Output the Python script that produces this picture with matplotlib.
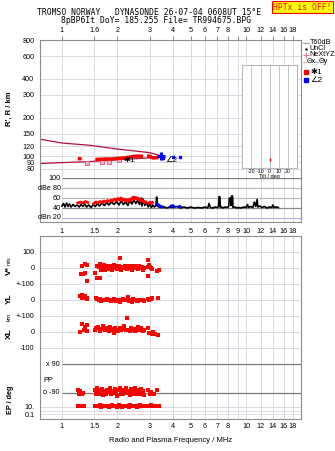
import matplotlib
matplotlib.use("Agg")
import matplotlib.pyplot as plt
from matplotlib.ticker import NullLocator
import numpy as np

plt.rcParams['font.family'] = ['Liberation Sans', 'DejaVu Sans']

W, H = 335, 451

# frequency axis (MHz)
freq_ticks = [1, 1.5, 2, 3, 4, 5, 6, 7, 8, 9, 10, 12, 14, 16, 18]
top_labels = ["1", "1.6", "2", "3", "4", "5", "6", "7", "8", "", "10", "12", "14", "16", "18"]
mid_labels = ["1", "1.5", "2", "3", "4", "5", "6", "7", "8", "9", "10", "12", "14", "16", "18"]
bot_labels = ["1", "1.5", "2", "3", "4", "5", "6", "7", "8", "", "10", "12", "14", "16", "18"]
range_ticks = [80, 90, 100, 120, 150, 200, 300, 400, 600, 800]

# model curves in the range panel
upper_f = [0.76, 1.0, 1.42, 2.0, 3.0, 3.45]
upper_r = [136, 127, 122, 114, 107, 101]
lower_f = [0.76, 1.0, 1.37, 2.0, 3.0, 3.45]
lower_r = [88, 89.5, 91, 94, 97.5, 100]
nexyz_f = [1.36, 1.66, 1.81, 2.04]
nexyz_r = [89, 91, 91, 93.5]

# O trace (*1) and X trace (<2)
o_f = [1.22, 1.28, 1.30, 1.37, np.nan, 1.52, 1.62, 1.72, 1.85, 2.0, 2.2, 2.35, 2.5, 2.76, np.nan, 2.9, 3.0, 3.1, 3.2, 3.35]
o_r = [96, 96, np.nan, 96, np.nan, 94.5, 95, 95.5, 95.5, 96.5, 97.5, 99, 100.5, 100.5, np.nan, 101, 100.5, 97.5, 97.5, 98]
x_f = [3.55, 4.0, 4.4]
x_r = [98, 98.5, 99]

# amplitude panel (dB)
amp_f = [1.00, 1.02, 1.04, 1.06, 1.08, 1.10, 1.12, 1.15, 1.18, 1.21, 1.24, 1.27, 1.30, 1.33, 1.36,
         1.40, 1.44, 1.48, 1.52, 1.56, 1.60, 1.65, 1.70, 1.75, 1.80, 1.86, 1.92, 1.98, 2.04, 2.10,
         2.16, 2.22, 2.28, 2.34, 2.40, 2.46, 2.52, 2.58, 2.64, 2.70, 2.72, 2.76, 2.82, 2.88, 2.94,
         3.00, 3.06, 3.12, 3.18, 3.24, 3.27, 3.30, 3.36, 3.45, 3.55, 3.70, 3.85, 4.00, 4.20, 4.40,
         4.60, 4.80, 5.00, 5.25, 5.50, 5.75, 6.00, 6.20, 6.30, 6.40, 6.60, 6.80, 7.00, 7.10, 7.14,
         7.22, 7.26, 7.35, 7.50, 7.70, 7.90, 8.05, 8.12, 8.25, 8.30, 8.35, 8.45, 8.50, 8.70, 8.90,
         9.10, 9.40, 9.70, 10.0, 10.2, 10.3, 10.6, 10.9, 11.1, 11.3, 11.5, 11.6, 11.9, 12.2, 12.6,
         13.0, 13.4, 13.8, 14.0, 14.2, 14.6, 15.0]
amp_db = [44, 49, 42, 50, 43, 48, 42, 47, 43, 46, 42, 47, 43, 48, 42,
          46, 41, 47, 43, 49, 44, 50, 45, 51, 46, 52, 47, 53, 46, 54,
          47, 52, 45, 55, 48, 56, 49, 55, 47, 60, 44, 58, 45, 52, 42,
          48, 41, 46, 42, 45, 62, 44, 42, 41, 43, 40, 42, 41, 43, 40,
          42, 40, 42, 40, 41, 40, 42, 40, 49, 41, 40, 42, 41, 43, 63,
          62, 41, 42, 40, 42, 41, 43, 60, 59, 45, 64, 64, 41, 42, 40,
          41, 40, 42, 41, 47, 41, 43, 41, 52, 43, 57, 42, 44, 41, 43,
          40, 42, 41, 46, 41, 42, 41]
o_amp_f = [1.22, 1.26, 1.30, 1.34, 1.38, np.nan, 1.49, 1.53, 1.57, 1.61, 1.65, 1.69, 1.73, 1.77, 1.81,
           1.85, 1.89, 1.93, 1.97, 2.01, 2.05, 2.09, 2.13, 2.17, 2.21, 2.25, 2.29, 2.33, 2.37, 2.41,
           2.45, 2.49, 2.53, 2.57, 2.61, 2.65, 2.69, 2.73, 2.77, 2.82, 2.86, np.nan, 2.95, 3.00, 3.05, 3.10]
o_amp_db = [50, 52, 50, 53, 51, np.nan, 49, 52, 50, 53, 51, 54, 52, 55, 53,
            56, 54, 58, 55, 59, 56, 60, 55, 58, 54, 57, 53, 58, 55, 60,
            62, 59, 61, 57, 59, 55, 57, 53, 54, 51, 52, np.nan, 50, 52, 49, 51]
x_amp_f = [3.28, 3.32, 3.38, 3.45, 3.52, np.nan, 3.92, 4.00, 4.05, np.nan, 4.35, 4.42]
x_amp_db = [48, 47, 45, 43, 42, np.nan, 44, 45, 43, np.nan, 43, 42]

# drift velocity, locations, polarisation
vs_f = [1.27, 1.29, 1.30, 1.33, 1.34, 1.36, 1.37,
        1.52, 1.55, 1.56, 1.58, 1.60, 1.61, 1.63, 1.65, 1.67, 1.69, 1.71, 1.73, 1.75, 1.77, 1.79,
        1.81, 1.84, 1.87, 1.90, 1.93, 1.96, 1.99, 2.02, 2.05, 2.07, 2.10, 2.13, 2.16, 2.19, 2.22,
        2.25, 2.28, 2.31, 2.34, 2.37, 2.40, 2.44, 2.47, 2.51, 2.55, 2.59, 2.63, 2.67, 2.71, 2.75, 2.79,
        2.92, 2.93, 2.94, 2.96, 2.98, 3.01, 3.04, 3.07, 3.30, 3.38]
vs_v = [-40, 12, -40, 25, -30, 20, -80,
        -30, 15, -60, 5, -60, 25, -10, 10, 0, 20, -15, 5, 10, -5, 15,
        0, 10, -10, 5, 20, 0, -5, 10, 15, 65, -10, 5, 0, 15, 10,
        -5, 5, 15, 0, 10, -10, 5, 10, 0, 15, -5, 10, 0, 5, -10, 0,
        50, -48, 8, 20, 15, 5, 0, -5, -20, -12]
yl_f = [1.26, 1.28, 1.29, 1.31, 1.33, 1.34, 1.36, 1.37,
        1.53, 1.56, 1.58, 1.61, 1.64, 1.67, 1.70, 1.73, 1.76, 1.79, 1.82, 1.85, 1.88, 1.91, 1.94,
        1.97, 2.00, 2.04, 2.08, 2.12, 2.16, 2.20, 2.24, 2.28, 2.32, 2.36, 2.40, 2.44, 2.48, 2.52,
        2.56, 2.60, 2.65, 2.70, 2.75, 2.80,
        2.94, 2.97, 3.00, 3.04, 3.07, 3.33]
yl_v = [25, 15, 30, 10, 20, 28, 12, 5,
        15, 5, 0, 5, -5, 0, 2, -2, 5, -3, 0, -8, 0, 5, -2,
        -5, 0, 3, -10, 0, 5, -3, 0, 20, -5, 0, -10, 5, -2, 0,
        -8, -5, 0, -3, 0, -5,
        5, 2, 5, 8, 10, 15]
xl_f = [1.26, 1.28, 1.31, 1.33, 1.36, 1.37,
        1.52, 1.54, 1.57, 1.60, 1.62, 1.65, 1.68, 1.71, 1.74, 1.77, 1.80, 1.83, 1.86, 1.89, 1.92,
        1.95, 1.98, 2.02, 2.06, 2.10, 2.14, 2.18, 2.22, 2.26, 2.30, 2.34, 2.38, 2.42, 2.46, 2.50,
        2.54, 2.58, 2.62, 2.66, 2.70, 2.75, 2.80,
        2.94, 2.97, 3.07, 3.14, 3.20, 3.33]
xl_v = [-2, 48, 12, 33, 5, 44,
        10, 25, 30, 15, 8, 20, 35, 10, 25, 15, 5, 30, 18, 12, -5,
        22, 15, 8, 28, 12, 20, 35, 10, 85, 15, 5, 25, 12, 18, 8,
        20, 30, 10, 15, 22, 5, 12,
        23, -8, -14, 0, -14, -19]
pp_f = [1.22, 1.24, 1.26, 1.28, 1.30,
        1.52, 1.54, 1.56, 1.58, 1.60, 1.62, 1.64, 1.66, 1.68, 1.70, 1.73, 1.76, 1.79, 1.82, 1.85,
        1.88, 1.91, 1.94, 1.97, 2.00, 2.03, 2.06, 2.09, 2.12, 2.15, 2.18, 2.21, 2.24, 2.27, 2.30,
        2.33, 2.36, 2.39, 2.42, 2.45, 2.48, 2.51, 2.54, 2.57, 2.60, 2.64, 2.68, 2.72, 2.76, 2.80,
        2.95, 3.00, 3.05, 3.15, 3.30]
pp_v = [-75, -95, -80, -100, -90,
        -70, -95, -60, -85, -100, -75, -90, -65, -105, -80, -95, -70, -88, -60, -100,
        -78, -92, -68, -85, -110, -75, -62, -95, -80, -100, -70, -88, -58, -93, -76,
        -105, -65, -85, -98, -72, -90, -60, -82, -100, -70, -95, -66, -88, -78, -102,
        -70, -95, -85, -100, -75]
ep_f = [1.22, 1.25, 1.28, 1.31,
        1.52, 1.56, 1.60, 1.64, 1.68, 1.72, 1.76, 1.80, 1.84, 1.88, 1.92, 1.96, 2.00, 2.04, 2.08,
        2.12, 2.16, 2.20, 2.25, 2.30, 2.35, 2.40, 2.45, 2.50, 2.55, 2.60, 2.65, 2.70, 2.75, 2.80,
        2.95, 3.00, 3.05, 3.15, 3.25, 3.35]
ep_v = [20, 20, 15, 20,
        20, 15, 25, 10, 18, 12, 20, 8, 15, 22, 12, 18, 10, 25, 15,
        8, 20, 12, 18, 10, 22, 15, 12, 20, 8, 15, 25, 12, 18, 15,
        20, 15, 22, 18, 20, 15]

# stacked rows of the lower panel share one vertical axis
YL_OFF = -200
XL_OFF = -400
PP_OFF = -690


def ep_pos(ep):
    return -867 + 23.75 * np.log10(np.asarray(ep, dtype=float) / 10)


def rect(x0, y0, x1, y1):
    return [x0 / W, 1 - y1 / H, (x1 - x0) / W, (y1 - y0) / H]


GRID = '#dcd8e2'
SPINE = '#8c8c8c'
FLIM = (0.76, 19.9)


def freq_axis(ax):
    ax.set_xscale('log')
    ax.set_xlim(*FLIM)
    ax.set_xticks(freq_ticks)
    ax.xaxis.set_minor_locator(NullLocator())
    ax.grid(True, axis='x', color=GRID, lw=0.7)
    for s in ax.spines.values():
        s.set_color(SPINE)
        s.set_linewidth(0.8)


fig = plt.figure(figsize=(W / 100, H / 100), dpi=100)

# range panel
ax_r = fig.add_axes(rect(40, 40, 301, 178))
freq_axis(ax_r)
ax_r.set_yscale('log')
ax_r.set_ylim(68, 800)
ax_r.set_yticks(range_ticks)
ax_r.set_yticklabels([str(t) for t in range_ticks])
ax_r.yaxis.set_minor_locator(NullLocator())
for t in range_ticks:
    ax_r.axhline(t, color=GRID, lw=0.7, zorder=0)
ax_r.set_xticklabels(top_labels)
ax_r.tick_params(axis='x', top=True, bottom=False, labeltop=True, labelbottom=False,
                 length=3, pad=1, labelsize=5.2, color=SPINE)
ax_r.tick_params(axis='y', length=0, pad=4, labelsize=5.2)
ax_r.spines['bottom'].set_visible(False)
ax_r.plot(upper_f, upper_r, color='#b0123c', lw=0.9)
ax_r.plot(lower_f, lower_r, color='#b0123c', lw=0.9)
ax_r.plot(nexyz_f, nexyz_r, ls='none', marker='s', ms=2.3, mfc='#f6b0c8', mec='#e0508a', mew=0.6)
ax_r.plot(o_f, o_r, color='red', lw=2.5, solid_capstyle='butt')
ax_r.plot([3.45], [100], marker='+', ms=6, mew=2.2, color='blue')
ax_r.plot(x_f, x_r, ls='none', marker='s', ms=2, color='blue')
ax_r.text(2.16, 92.5, "✱1", fontsize=6, va='center', ha='left')
ax_r.text(3.63, 93.5, "∠2", fontsize=6, va='center', ha='left')
ax_r.set_ylabel("R', R / km", fontsize=5.5, fontweight='bold', labelpad=7)

# tilt inset
ax_t = fig.add_axes(rect(241.7, 65, 297.3, 168))
ax_t.set_facecolor('white')
ax_t.set_xlim(-30.5, 30)
ax_t.set_yscale('log')
ax_t.set_ylim(80, 503)
ax_t.set_xticks([-20, -10, 0, 10, 20])
ax_t.set_yticks([])
ax_t.yaxis.set_minor_locator(NullLocator())
ax_t.grid(True, axis='x', color='#b8b8c0', lw=0.6)
ax_t.tick_params(axis='x', length=0, pad=1, labelsize=3.8)
ax_t.set_xticklabels(["-20", "-10", "0", "10", "20"])
for s in ax_t.spines.values():
    s.set_color('#b8b8c0')
    s.set_linewidth(0.8)
ax_t.vlines(0, 90, 96, color='red', lw=1)
ax_t.set_xlabel("Tilt / deg", fontsize=4, labelpad=0)

# amplitude panel
ax_a = fig.add_axes(rect(40, 178, 301, 222))
freq_axis(ax_a)
ax_a.set_ylim(12, 100)
ax_a.set_yticks([])
ax_a.spines['top'].set_visible(False)
ax_a.set_xticklabels(mid_labels)
ax_a.tick_params(axis='x', length=0, pad=4, labelsize=5.2)
for lev, lab, col in [(100, "100", '#7a7a7a'), (80, "dBe 80", '#b8b8b8'), (60, "60", '#b8b8b8'),
                      (40, "40", '#8a8a8a'), (20, "dBn 20", '#b8b8e8')]:
    ax_a.hlines(lev, 1.0, FLIM[1], color=col, lw=0.9)
    ax_a.text(0.985, lev, lab, ha='right', va='center', fontsize=5.2)
ax_a.plot(amp_f, amp_db, color='black', lw=1.2)
ax_a.plot(o_amp_f, o_amp_db, color='red', lw=2)
ax_a.plot(x_amp_f, x_amp_db, color='blue', lw=2)

# drift / location / polarisation panel
ax_l = fig.add_axes(rect(40, 236, 301, 419))
freq_axis(ax_l)
ax_l.set_ylim(-943.75, 200)
ytk = [100, 0, -100, YL_OFF, YL_OFF - 100, XL_OFF, XL_OFF - 100, -867, -914]
ax_l.set_yticks(ytk)
ax_l.set_yticklabels(["100", "0", "+-100", "0", "+-100", "0", "-100", "10.", "0.1"])
ax_l.tick_params(axis='y', length=0, pad=4, labelsize=5.2)
ax_l.set_xticklabels(bot_labels)
ax_l.tick_params(axis='x', length=0, pad=3, labelsize=5.2)
for y in ytk + [-892]:
    ax_l.axhline(y, color=GRID, lw=0.7, zorder=0)
ax_l.hlines([-600, -780], 1.0, FLIM[1], color='#7a7a7a', lw=0.9)
ax_l.text(0.975, -600, "x 90", ha='right', va='center', fontsize=5.2)
ax_l.text(0.975, -780, "o -90", ha='right', va='center', fontsize=5.2)
ax_l.text(0.79, -700, "PP", ha='left', va='center', fontsize=5.2)
mk = dict(ls='none', marker='s', ms=2.2, mew=0, color='red')
ax_l.plot(vs_f, vs_v, **mk)
ax_l.plot(yl_f, np.array(yl_v) + YL_OFF, **mk)
ax_l.plot(xl_f, np.array(xl_v) + XL_OFF, **mk)
ax_l.plot(pp_f, np.array(pp_v) + PP_OFF, **mk)
ax_l.plot(ep_f, ep_pos(ep_v), **mk)
ax_l.set_xlabel("Radio and Plasma Frequency / MHz", fontsize=5.5, labelpad=5)

# overlay in pixel units for titles, side labels and legend
ov = fig.add_axes([0, 0, 1, 1])
ov.set_xlim(0, W)
ov.set_ylim(H, 0)
ov.axis('off')
ov.patch.set_alpha(0)
mono = dict(family='DejaVu Sans Mono', fontsize=5.8, ha='center', va='center')
ov.text(149, 12.3, "TROMSO NORWAY   DYNASONDE 26-07-04 0608UT 15°E", **mono)
ov.text(156, 20.3, "8pBP6It DoY= 185.255 File= TR994675.BPG", **mono)
ov.text(302.5, 7.3, "HPTx is OFF!", color='red', family='DejaVu Sans Mono', fontsize=5.8,
        ha='center', va='center',
        bbox=dict(boxstyle='square,pad=0.2', facecolor='#ffff00', edgecolor='red', lw=0.8))

side = dict(rotation=90, ha='center', va='center', fontsize=6, fontweight='bold')
ov.text(9, 271, "V*", **side)
ov.text(9, 261, "m/s", rotation=90, ha='center', va='center', fontsize=4)
ov.text(9, 299, "YL", **side)
ov.text(9, 316.5, "km", rotation=90, ha='center', va='center', fontsize=4.5)
ov.text(9, 334, "XL", **side)
ov.text(11, 400, "EP / deg", rotation=90, ha='center', va='center', fontsize=5.2, fontweight='bold')

leg = dict(fontsize=5.2, ha='left', va='center')
ov.plot([303, 308.5], [42.5, 42.5], color='#a0a0a0', lw=0.8)
ov.text(309.5, 42.5, "T60dB", **leg)
ov.plot([306], [49], marker='.', ms=1.5, color='black')
ov.text(309.5, 49, "UnCl", **leg)
ov.plot([305.5], [55], marker='+', ms=4, mew=0.7, color='#f070a0')
ov.text(309.5, 55, "NeXtYZ", **leg)
ov.plot([302.5, 306], [61.5, 61.5], color='#f0a0a0', lw=0.8)
ov.text(306.3, 61.5, "Θx", **leg)
ov.plot([314.5, 318], [61.5, 61.5], color='#a0a0f0', lw=0.8)
ov.text(318.3, 61.5, "Θy", **leg)
ov.plot([306], [72], marker='s', ms=2.2, color='red')
ov.text(310.5, 72, "✱1", fontsize=6, ha='left', va='center')
ov.plot([306], [80], marker='s', ms=2.2, color='blue')
ov.text(310.5, 80, "∠2", fontsize=6, ha='left', va='center')

fig.savefig("out.png", dpi=100)
